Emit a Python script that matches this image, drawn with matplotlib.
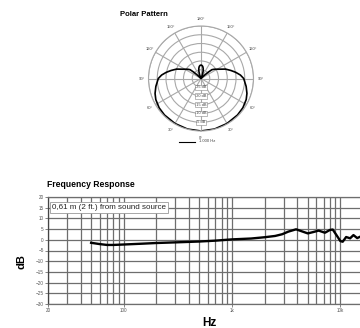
"""
Polar pattern and frequency response of a cardioid microphone
"""
import numpy as np
import matplotlib
matplotlib.use("Agg")
import matplotlib.pyplot as plt
from matplotlib.lines import Line2D
from matplotlib.ticker import LogLocator, NullFormatter

plt.rcParams["font.family"] = ["Liberation Sans", "DejaVu Sans"]

# Polar pattern at 1 kHz, one half (0 = front), mirrored for the other side
polar_angles = [0, 15, 30, 45, 55, 65, 72, 80, 90, 95, 100, 105, 111, 115, 120,
                125, 129, 131, 133, 136, 145, 155, 160, 164, 168, 172, 176, 180]
polar_db = [0, -0.1, -0.3, -0.5, -0.8, -1.5, -2.4, -3.8, -5.6, -7.4, -9.8, -12.3,
            -15, -17.4, -19.4, -20.8, -22, -24.5, -27, -29.5, -30, -29.5, -27.5,
            -25.5, -24, -23, -22.5, -22.3]
ring_db = [-25, -20, -15, -10, -5]
angle_labels = ["0°", "30°", "60°", "90°", "120°", "150°", "180°",
                "150°", "120°", "90°", "60°", "30°"]

# Frequency response (0.61 m from source)
freq_hz = [50, 60, 70, 80, 100, 150, 200, 300, 500, 700, 1000, 1500, 2000, 2500,
           2900, 3300, 3900, 4500, 5000, 5600, 6300, 7200, 8000, 8500, 9200,
           10000, 10500, 11300, 12300, 13200, 14300, 15300, 16500]
resp_db = [-1.4, -2.0, -2.4, -2.4, -2.2, -1.8, -1.5, -1.2, -0.8, -0.4, 0.2, 0.6,
           1.2, 1.8, 2.6, 3.8, 4.9, 3.8, 3.0, 3.6, 4.3, 3.3, 4.6, 4.8, 2.2,
           -0.6, -0.9, 1.3, 0.7, 2.2, 0.8, 1.5, 0.8]
x_ticks = [20, 100, 1000, 10000]
x_ticklabels = ["20", "100", "1k", "10k"]
y_ticks = list(range(-30, 25, 5))

W, H = 360, 328
fig = plt.figure(figsize=(W / 100, H / 100), dpi=100)

# ---- polar pattern
cx, cy, rad = 201, 78.5, 52.5
axp = fig.add_axes([(cx - rad) / W, 1 - (cy + rad) / H, 2 * rad / W, 2 * rad / H],
                   projection="polar")
axp.set_theta_zero_location("S")
axp.set_theta_direction(-1)
theta = np.deg2rad(polar_angles + [360 - a for a in polar_angles[::-1]])
r = polar_db + polar_db[::-1]
axp.plot(theta, r, color="black", lw=1.2)
axp.set_rlim(-30, 0)
axp.set_rticks(ring_db + [0])
axp.set_yticklabels([])
axp.set_thetagrids(range(0, 360, 30), angle_labels, fontsize=3, color="#444")
axp.tick_params(axis="x", pad=-5.5)
axp.grid(color="#a8a8a8", lw=0.8)
axp.spines["polar"].set_color("#a8a8a8")
axp.spines["polar"].set_linewidth(0.8)
for rv in ring_db:
    axp.text(0, rv, f"{rv} dB", ha="center", va="center", fontsize=2.8, color="#444",
             bbox=dict(boxstyle="square,pad=0.15", fc="white", ec="#888", lw=0.4))
fig.text(120 / W, 1 - 15 / H, "Polar Pattern", fontsize=5.5, weight="bold",
         ha="left", va="center")
fig.add_artist(Line2D([179 / W, 195 / W], [1 - 141.5 / H] * 2, color="black", lw=0.8))
fig.text(199 / W, 1 - 141.5 / H, "1.000 Hz", fontsize=3, color="#444", va="center")

# ---- frequency response
ax = fig.add_axes([48 / W, 1 - 304 / H, 325 / W, 107 / H])
ax.semilogx(freq_hz, resp_db, color="black", lw=1.7, zorder=3)
ax.set_xlim(20, 20000)
ax.set_ylim(-30, 20)
ax.set_xticks(x_ticks)
ax.set_xticklabels(x_ticklabels)
ax.xaxis.set_minor_locator(LogLocator(base=10, subs=np.arange(2, 10), numticks=20))
ax.xaxis.set_minor_formatter(NullFormatter())
ax.set_yticks(y_ticks)
ax.grid(True, which="both", color="#6e6e6e", lw=0.9)
ax.tick_params(which="minor", length=0)
ax.tick_params(which="major", labelsize=3.3, labelcolor="#555", length=2,
               width=0.5, color="#555", pad=1)
for s in ax.spines.values():
    s.set_color("#6e6e6e")
    s.set_linewidth(0.9)
ax.spines["left"].set_color("#444")
ax.set_ylabel("dB", fontsize=8, weight="bold", labelpad=5)
ax.yaxis.set_label_coords(-0.065, 0.4)
fig.text(209.5 / W, 1 - 323 / H, "Hz", fontsize=8.5, weight="bold",
         ha="center", va="center")
fig.text(47 / W, 1 - 185 / H, "Frequency Response", fontsize=6.2, weight="bold",
         ha="left", va="center")
ax.text(21.8, 15, "0,61 m (2 ft.) from sound source", fontsize=5.8, ha="left",
        va="center", color="#222", zorder=4,
        bbox=dict(boxstyle="square,pad=0.25", fc="white", ec="#999", lw=0.6))

fig.savefig("out.png", dpi=100)
